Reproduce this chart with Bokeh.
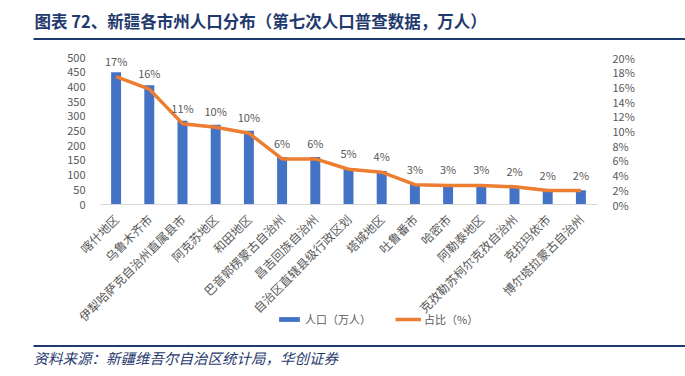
import math
from bokeh.plotting import figure
from bokeh.core.properties import value
from bokeh.models import (Range1d, LinearAxis, CategoricalAxis, ColumnDataSource, LabelSet,
                          Legend, LegendItem, FixedTicker, PrintfTickFormatter, FactorRange)
from bokeh.embed import file_html
from bokeh.resources import INLINE

regions = ["喀什地区", "乌鲁木齐市", "伊犁哈萨克自治州直属县市", "阿克苏地区", "和田地区",
           "巴音郭楞蒙古自治州", "昌吉回族自治州", "自治区直辖县级行政区划", "塔城地区",
           "吐鲁番市", "哈密市", "阿勒泰地区", "克孜勒苏柯尔克孜自治州", "克拉玛依市",
           "博尔塔拉蒙古自治州"]
population = [449.6, 405.4, 284.9, 271.4, 250.5, 161.4, 161.4, 122.5, 113.8,
              69.3, 67.3, 66.8, 62.2, 49.1, 48.8]
share = [17.4, 15.7, 11.0, 10.5, 9.7, 6.2, 6.2, 4.8, 4.4, 2.7, 2.6, 2.6, 2.4, 1.9, 1.9]
share_labels = ["17%", "16%", "11%", "10%", "10%", "6%", "6%", "5%", "4%",
                "3%", "3%", "3%", "2%", "2%", "2%"]
left_ticks = [0, 50, 100, 150, 200, 250, 300, 350, 400, 450, 500]
right_ticks = [0, 2, 4, 6, 8, 10, 12, 14, 16, 18, 20]

title_text = "图表 72、新疆各市州人口分布（第七次人口普查数据，万人）"
source_text = "资料来源：新疆维吾尔自治区统计局，华创证券"
legend_labels = ["人口（万人）", "占比（%）"]

FONT = "Noto Sans CJK SC"
GRAY = "#595959"
NAVY = "#1F3A6E"

# ---- canvas geometry (pixels) ----
W, H = 685, 376
FRAME_L = 11                     # frame spans x 11..685 and y 0..376
PLOT_L, PLOT_R = 99, 597         # chart area
PLOT_T, PLOT_B = 57, 204         # top (500 / 20%) and baseline (0)
n = len(regions)
px_per_cat = (PLOT_R - PLOT_L) / n
pad = ((W - FRAME_L) / px_per_cat - n) / 2

ymax_left, ymax_right = left_ticks[-1], right_ticks[-1]
u_left = ymax_left / (PLOT_B - PLOT_T)
u_right = ymax_right / (PLOT_B - PLOT_T)


def cx(px):
    """canvas pixel x -> synthetic categorical coordinate"""
    return (px - PLOT_L) / px_per_cat


p = figure(x_range=FactorRange(*regions, range_padding=pad, range_padding_units="absolute"),
           y_range=Range1d(-(H - PLOT_B) * u_left, ymax_left + PLOT_T * u_left),
           width=W, height=H, output_backend="svg", toolbar_location=None,
           x_axis_location=None, y_axis_location=None,
           min_border_left=FRAME_L, min_border_right=0, min_border_top=0, min_border_bottom=0)
p.extra_y_ranges = {"pct": Range1d(-(H - PLOT_B) * u_right, ymax_right + PLOT_T * u_right),
                    "py": Range1d(H, 0)}
p.outline_line_color = None
p.grid.visible = False

src = ColumnDataSource(dict(region=regions, pop=population, share=share, lbl=share_labels))

bars = p.vbar(x="region", top="pop", width=0.3, source=src, fill_color="#4472C4", line_color=None)
line = p.line(x="region", y="share", source=src, y_range_name="pct",
              line_color="#ED7D31", line_width=3.5)

labels = LabelSet(x="region", y="share", text="lbl", source=src, y_range_name="pct",
                  y_offset=16, text_align="center", text_baseline="middle",
                  text_font=value(FONT), text_font_size="11px", text_color=GRAY)
p.add_layout(labels)

# left axis
ya = LinearAxis(ticker=FixedTicker(ticks=left_ticks), fixed_location=0)
ya.axis_line_color = None
ya.major_tick_line_color = None
ya.minor_tick_line_color = None
ya.major_label_text_font = FONT
ya.major_label_text_font_size = "11px"
ya.major_label_text_color = GRAY
ya.major_label_standoff = 8
p.add_layout(ya, "left")

# right axis
ra = LinearAxis(y_range_name="pct", ticker=FixedTicker(ticks=right_ticks),
                formatter=PrintfTickFormatter(format="%d%%"), fixed_location=n)
ra.axis_line_color = None
ra.major_tick_line_color = None
ra.minor_tick_line_color = None
ra.major_label_text_font = FONT
ra.major_label_text_font_size = "11px"
ra.major_label_text_color = GRAY
ra.major_label_standoff = 9
p.add_layout(ra, "right")

# category axis at baseline
xa = CategoricalAxis(fixed_location=0, bounds=(0, n))
xa.axis_line_color = "#D9D9D9"
xa.major_tick_line_color = None
xa.minor_tick_line_color = None
xa.major_label_orientation = math.pi / 4
xa.major_label_text_font = FONT
xa.major_label_text_font_size = "12px"
xa.major_label_text_color = GRAY
xa.major_label_standoff = 6
p.add_layout(xa, "below")

legend = Legend(items=[LegendItem(label=legend_labels[0], renderers=[bars]),
                       LegendItem(label=legend_labels[1], renderers=[line])],
                orientation="horizontal", location=(276 - FRAME_L, H - 327),
                padding=0, margin=0, spacing=24, glyph_width=26, glyph_height=6,
                label_standoff=3, label_text_font=FONT, label_text_font_size="11px",
                label_text_color=GRAY, background_fill_alpha=0, border_line_color=None)
p.add_layout(legend)

# header / footer
p.text(x=[cx(34)], y=[20], text=[title_text], y_range_name="py",
       text_font=value(FONT), text_font_size="16.5px", text_font_style="bold",
       text_color=NAVY, text_baseline="middle", text_align="left")
p.segment(x0=[cx(33)], y0=[38.5], x1=[cx(W)], y1=[38.5], y_range_name="py",
          line_color=NAVY, line_width=2)
p.segment(x0=[cx(33)], y0=[345.5], x1=[cx(W)], y1=[345.5], y_range_name="py",
          line_color=NAVY, line_width=2)
p.text(x=[cx(33)], y=[357], text=[source_text], y_range_name="py",
       text_font=value(FONT), text_font_size="14.5px", text_font_style="italic",
       text_color=NAVY, text_baseline="middle", text_align="left")

open("out.html", "w").write(file_html(p, INLINE))
